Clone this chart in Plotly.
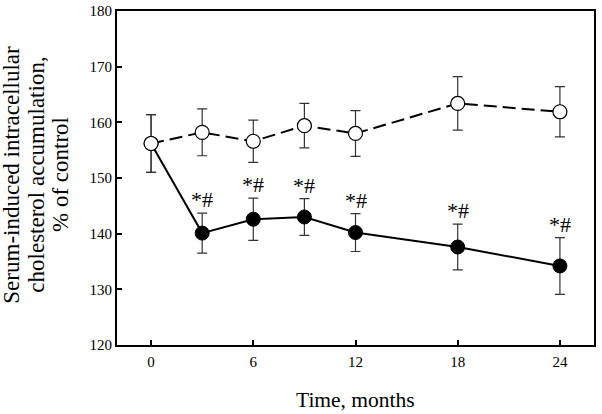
import plotly.graph_objects as go

months = [0, 3, 6, 9, 12, 18, 24]
open_mean = [156.2, 158.2, 156.6, 159.4, 158.0, 163.4, 161.9]
open_err = [5.2, 4.2, 3.8, 4.0, 4.1, 4.8, 4.5]
filled_mean = [156.2, 140.1, 142.6, 143.0, 140.2, 137.6, 134.2]
filled_err = [5.2, 3.6, 3.8, 3.3, 3.4, 4.1, 5.1]
sig_months = [3, 6, 9, 12, 18, 24]
sig_label = "*#"
x_ticks = [0, 6, 12, 18, 24]
y_ticks = [120, 130, 140, 150, 160, 170, 180]
y_title_lines = ["Serum-induced intracellular", "cholesterol accumulation,", "% of control"]
x_title = "Time, months"

font_family = "Liberation Serif, Times New Roman, serif"

fig = go.Figure()

fig.add_trace(go.Scatter(
    x=months, y=filled_mean,
    mode="lines+markers",
    line=dict(color="black", width=2),
    marker=dict(symbol="circle", size=14, color="black",
                line=dict(color="black", width=1)),
    error_y=dict(type="data", array=filled_err, visible=True,
                 color="#333333", thickness=1.2, width=5),
    showlegend=False,
))

fig.add_trace(go.Scatter(
    x=months, y=open_mean,
    mode="lines+markers",
    line=dict(color="black", width=2, dash="13px,6px"),
    marker=dict(symbol="circle", size=14, color="white",
                line=dict(color="black", width=1.2)),
    error_y=dict(type="data", array=open_err, visible=True,
                 color="#333333", thickness=1.2, width=5),
    showlegend=False,
))

for m in sig_months:
    i = months.index(m)
    fig.add_annotation(
        x=m, y=filled_mean[i] + filled_err[i],
        xref="x", yref="y", text=sig_label, showarrow=False,
        yanchor="bottom", yshift=-1,
        font=dict(family=font_family, size=22, color="black"),
    )

# y-axis title as three centred rotated lines
title_x = [-0.2208, -0.1684, -0.1174]
for line, xp in zip(y_title_lines, title_x):
    fig.add_annotation(
        x=xp, y=0.509, xref="paper", yref="paper", text=line,
        showarrow=False, textangle=-90, xanchor="center", yanchor="middle",
        font=dict(family=font_family, size=23, color="black"),
    )

# x-axis title
fig.add_annotation(
    x=0.5, y=-0.1647, xref="paper", yref="paper", text=x_title,
    showarrow=False, xanchor="center", yanchor="middle",
    font=dict(family=font_family, size=21.5, color="black"),
)

fig.update_layout(
    width=602, height=414,
    margin=dict(l=117, r=8, t=11, b=69, autoexpand=False),
    paper_bgcolor="white", plot_bgcolor="white",
    font=dict(family=font_family, color="black", size=15),
)

fig.update_xaxes(
    range=[-2, 26], tickvals=x_ticks, ticktext=[str(v) for v in x_ticks],
    ticks="inside", ticklen=5, tickcolor="black", tickwidth=1.5,
    showline=True, linecolor="black", linewidth=2, mirror=True,
    showgrid=False, zeroline=False, automargin=False,
    tickfont=dict(size=15), ticklabelstandoff=2,
)

fig.update_yaxes(
    range=[120, 180], tickvals=y_ticks, ticktext=[str(v) for v in y_ticks],
    ticks="inside", ticklen=5, tickcolor="black", tickwidth=1.5,
    showline=True, linecolor="black", linewidth=2, mirror=True,
    showgrid=False, zeroline=False, automargin=False,
    tickfont=dict(size=15),
)

fig.write_html("out.html", config={"displayModeBar": False},
               post_script="document.body.style.margin='0';")
